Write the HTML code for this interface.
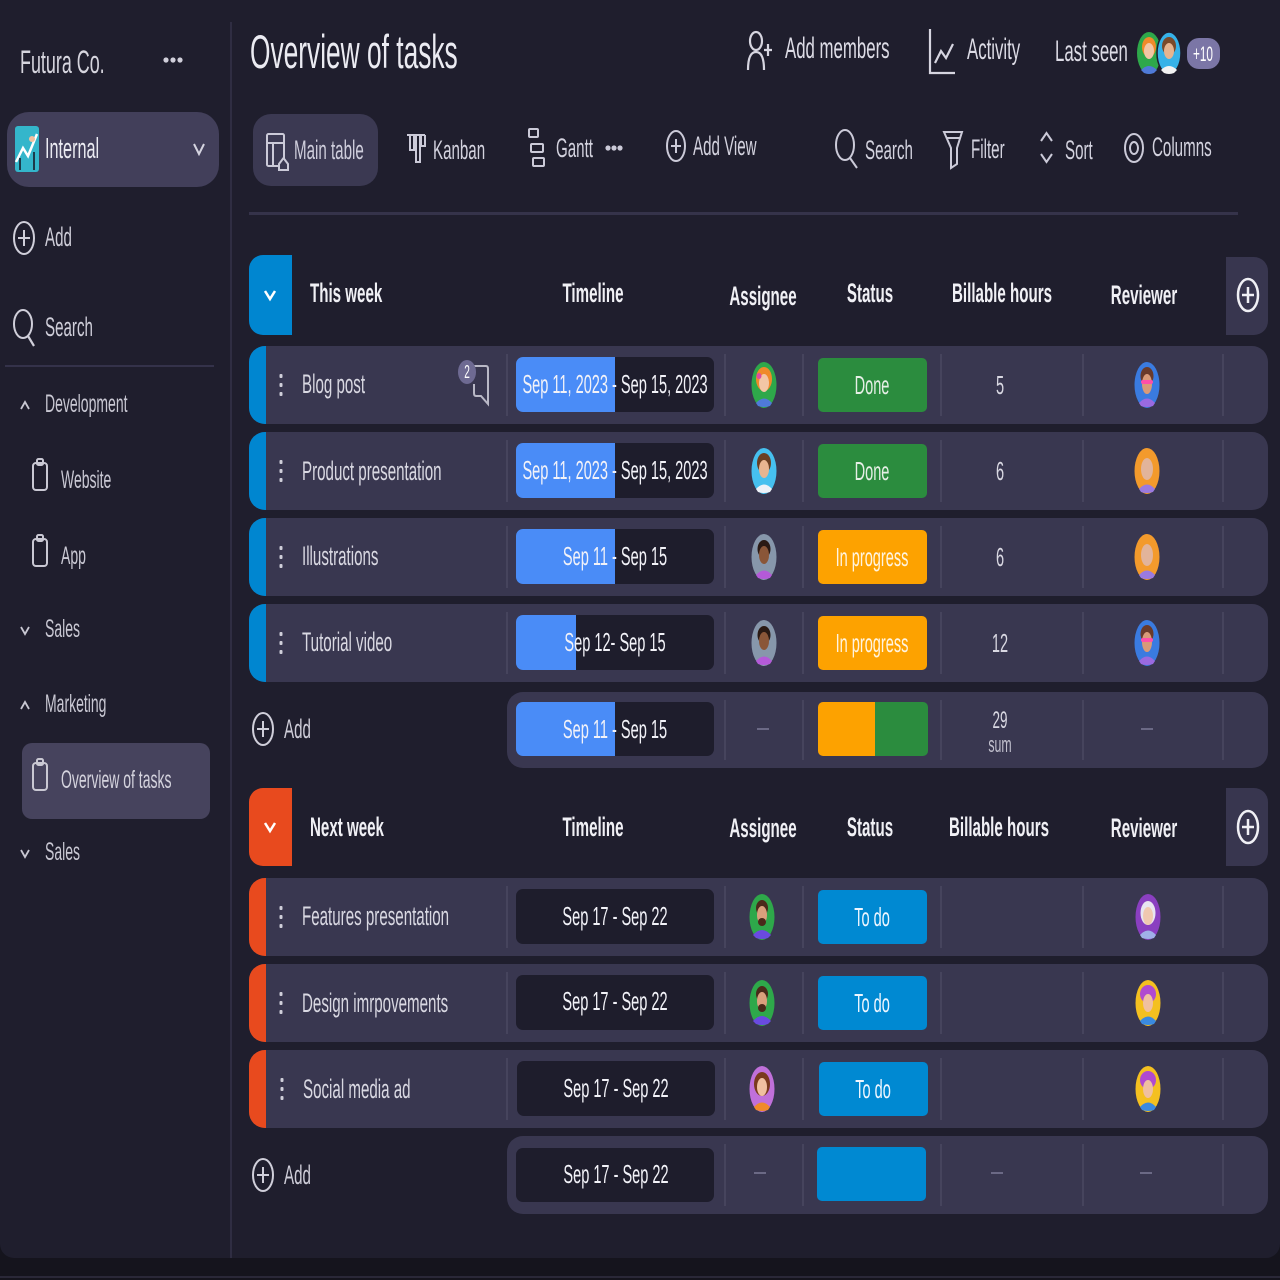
<!DOCTYPE html>
<html><head><meta charset="utf-8">
<style>
*{margin:0;padding:0;box-sizing:border-box}
html,body{width:1280px;height:1280px;overflow:hidden;background:#15141d;font-family:"Liberation Sans",sans-serif}
#panel{position:absolute;left:0;top:0;width:1280px;height:1258px;background:#1f1e2d;border-radius:0 0 14px 14px}
.t{position:absolute;white-space:nowrap;line-height:1;transform-origin:0 50%;transform:scaleX(.56);color:#d9d8e2}
.c{position:absolute;white-space:nowrap;line-height:1;transform-origin:0 50%;transform:scaleX(.56) translateX(-50%);color:#d9d8e2}
.b{font-weight:bold;color:#f0f0f5}
.box{position:absolute}
.row{position:absolute;left:249px;width:1019px;height:78px;background:#393750;border-radius:16px;overflow:hidden}
.strip{position:absolute;left:0;top:0;width:17px;height:78px}
.dv{position:absolute;width:2px;height:62px;top:8px;background:#46445d}
.tl{position:absolute;left:267px;top:11px;width:198px;height:55px;background:#1e1d2c;border-radius:7px;overflow:hidden}
.tlb{position:absolute;left:0;top:0;height:55px;background:#4a8cf7}
.st{position:absolute;left:569px;top:12px;width:109px;height:54px;border-radius:5px}
.dash{position:absolute;width:12px;height:2px;background:#6b6985}
svg{position:absolute;overflow:visible}
</style></head><body>
<div id="panel"></div>
<div class="box" style="left:0;top:1276px;width:1280px;height:2px;background:#2a2838"></div>

<!-- SIDEBAR -->
<div class="t" style="left:20px;top:46px;font-size:32px;color:#d6d5de">Futura Co.</div>
<svg style="left:0;top:0" width="1280" height="1280">
  <circle cx="166" cy="60" r="2.6" fill="#d0cfda"/><circle cx="173" cy="60" r="2.6" fill="#d0cfda"/><circle cx="180" cy="60" r="2.6" fill="#d0cfda"/>
</svg>
<div class="box" style="left:7px;top:112px;width:212px;height:75px;border-radius:22px;background:#423f5a"></div>
<svg style="left:0;top:0" width="300" height="900">
  <rect x="15" y="126" width="24" height="46" rx="3" fill="#34b6cb"/>
  <path d="M16 162 L23 148 L28 156 L37 134" stroke="#fff" stroke-width="2.5" fill="none"/>
  <path d="M20 170 V158 M34 170 V152" stroke="#1d3a4a" stroke-width="2"/>
  <circle cx="32" cy="139" r="3" fill="#f2c0a0"/>
  <polyline points="194,144 199,154 204,144" stroke="#d5d4e0" stroke-width="2" fill="none"/>
  <ellipse cx="24" cy="238" rx="10" ry="16" stroke="#d0cfda" stroke-width="2" fill="none"/>
  <path d="M24 230 V246 M18 238 H30" stroke="#d0cfda" stroke-width="2"/>
  <ellipse cx="23" cy="324" rx="9" ry="14" stroke="#d0cfda" stroke-width="2" fill="none"/>
  <path d="M28 336 L34 346" stroke="#d0cfda" stroke-width="2.2"/>
  <polyline points="21,409 25,402 29,409" stroke="#c8c7d2" stroke-width="1.8" fill="none"/>
  <polyline points="21,627 25,634 29,627" stroke="#c8c7d2" stroke-width="1.8" fill="none"/>
  <polyline points="21,709 25,702 29,709" stroke="#c8c7d2" stroke-width="1.8" fill="none"/>
  <polyline points="21,850 25,857 29,850" stroke="#c8c7d2" stroke-width="1.8" fill="none"/>
</svg>
<div class="t" style="left:45px;top:135px;font-size:29px;color:#ebebf2">Internal</div>
<div class="t" style="left:45px;top:224px;font-size:27px;color:#cfced9">Add</div>
<div class="t" style="left:45px;top:314px;font-size:27px;color:#cfced9">Search</div>
<div class="box" style="left:5px;top:365px;width:209px;height:2px;background:#34324a"></div>
<div class="t" style="left:45px;top:392px;font-size:25px;color:#c9c8d3">Development</div>
<div class="t" style="left:61px;top:468px;font-size:25px;color:#c9c8d3">Website</div>
<div class="t" style="left:61px;top:544px;font-size:25px;color:#c9c8d3">App</div>
<div class="t" style="left:45px;top:617px;font-size:25px;color:#c9c8d3">Sales</div>
<div class="t" style="left:45px;top:692px;font-size:25px;color:#c9c8d3">Marketing</div>
<div class="box" style="left:22px;top:743px;width:188px;height:76px;border-radius:10px;background:#46435d"></div>
<div class="t" style="left:61px;top:768px;font-size:25px;color:#d4d3dd">Overview of tasks</div>
<div class="t" style="left:45px;top:840px;font-size:25px;color:#c9c8d3">Sales</div>
<svg style="left:0;top:0" width="300" height="900">
  <g stroke="#c9c8d3" stroke-width="2" fill="none">
    <rect x="33" y="463" width="14" height="27" rx="3"/><rect x="37" y="459" width="6" height="6" rx="1.5"/>
    <rect x="33" y="539" width="14" height="27" rx="3"/><rect x="37" y="535" width="6" height="6" rx="1.5"/>
    <rect x="33" y="763" width="14" height="27" rx="3"/><rect x="37" y="759" width="6" height="6" rx="1.5"/>
  </g>
</svg>
<div class="box" style="left:230px;top:22px;width:2px;height:1236px;background:#2f2d42"></div>

<!-- TOP HEADER -->
<div class="t" style="left:250px;top:28px;font-size:47px;color:#ebebf2">Overview of tasks</div>
<svg style="left:0;top:0" width="1280" height="240">
  <g stroke="#d6d5e0" stroke-width="2.2" fill="none">
    <ellipse cx="756" cy="41" rx="6" ry="9"/>
    <path d="M748 70 Q748 52 756 52 Q764 52 764 70"/>
    <path d="M768 44 V56 M764 50 H772"/>
    <path d="M930 29 V73 H955"/>
    <polyline points="935,63 941,51 946,58 953,44"/>
  </g>
</svg>
<div class="t" style="left:785px;top:34px;font-size:30px;color:#dddce6">Add members</div>
<div class="t" style="left:967px;top:35px;font-size:30px;color:#dddce6">Activity</div>
<div class="t" style="left:1055px;top:37px;font-size:30px;color:#dddce6">Last seen</div>
<svg style="left:1136px;top:30px" width="50" height="46">
  <ellipse cx="13" cy="23" rx="12" ry="21" fill="#2ea84a"/>
  <ellipse cx="13" cy="17" rx="7" ry="10" fill="#f08a2a"/>
  <ellipse cx="13" cy="21" rx="5" ry="8" fill="#f3c6a5"/>
  <path d="M5 40 Q13 32 21 40 L18 43 Q13 45 8 43Z" fill="#4f7ad8"/>
  <ellipse cx="33" cy="23" rx="12" ry="21" fill="#36b2e8" stroke="#1f1e2d" stroke-width="1.5"/>
  <ellipse cx="33" cy="16" rx="7" ry="9" fill="#7a4a2a"/>
  <ellipse cx="33" cy="21" rx="5" ry="8" fill="#e6b48f"/>
  <path d="M25 40 Q33 32 41 40 L38 43 Q33 45 28 43Z" fill="#f2f2f2"/>
</svg>
<div class="box" style="left:1187px;top:38px;width:33px;height:31px;border-radius:12px;background:#7b76a6"></div>
<div class="c" style="left:1203px;top:44px;font-size:21px;color:#fff">+10</div>

<!-- TOOLBAR -->
<div class="box" style="left:253px;top:114px;width:125px;height:72px;border-radius:18px;background:#3b3952"></div>
<svg style="left:0;top:0" width="1280" height="240">
  <g stroke="#cbcad8" stroke-width="2" fill="none">
    <rect x="267" y="134" width="17" height="32" rx="1.5"/>
    <path d="M267 143 H284 M273 143 V166"/>
    <path d="M279 164 L283.5 158 L288 164 V170 H279Z" fill="#3b3952"/>
    <path d="M407 135 H425 M410 135 V150 H414 V135 M416 135 V162 H420 V135 M421 135 V146 H425 V135"/>
    <rect x="529" y="129" width="9" height="8" rx="1"/>
    <rect x="531" y="144" width="12" height="8" rx="1"/>
    <rect x="533" y="158" width="11" height="8" rx="1"/>
    <ellipse cx="676" cy="146" rx="9" ry="15"/>
    <path d="M676 139 V153 M671 146 H681"/>
    <ellipse cx="845" cy="145" rx="9" ry="15"/>
    <path d="M850 158 L857 168"/>
    <path d="M944 132 H962 L957 148 V164 L951 168 V148Z"/>
    <path d="M946 138 H960"/>
    <polyline points="1041,141 1046.5,133 1052,141"/>
    <polyline points="1041,154 1046.5,162 1052,154"/>
    <ellipse cx="1134" cy="148" rx="9" ry="14"/>
    <ellipse cx="1134" cy="148" rx="4" ry="6"/>
  </g>
  <circle cx="608" cy="148" r="2.6" fill="#cbcad8"/><circle cx="614" cy="148" r="2.6" fill="#cbcad8"/><circle cx="620" cy="148" r="2.6" fill="#cbcad8"/>
</svg>
<div class="t" style="left:294px;top:137px;font-size:27px;color:#cfcedc">Main table</div>
<div class="t" style="left:433px;top:137px;font-size:27px;color:#d3d2de">Kanban</div>
<div class="t" style="left:556px;top:135px;font-size:27px;color:#d3d2de">Gantt</div>
<div class="t" style="left:693px;top:133px;font-size:27px;color:#d3d2de">Add View</div>
<div class="t" style="left:865px;top:137px;font-size:27px;color:#d3d2de">Search</div>
<div class="t" style="left:971px;top:136px;font-size:27px;color:#d3d2de">Filter</div>
<div class="t" style="left:1065px;top:137px;font-size:27px;color:#d3d2de">Sort</div>
<div class="t" style="left:1152px;top:134px;font-size:27px;color:#d3d2de">Columns</div>
<div class="box" style="left:249px;top:212px;width:989px;height:3px;background:#35334a"></div>

<!-- GROUP 1 HEADER -->
<div class="box" style="left:249px;top:255px;width:43px;height:80px;border-radius:14px 0 0 14px;background:#0086d0"></div>
<svg style="left:0;top:0" width="1280" height="900">
  <polyline points="265,291 270,299 275,291" stroke="#fff" stroke-width="2.5" fill="none"/>
</svg>
<div class="t b" style="left:310px;top:280px;font-size:27px">This week</div>
<div class="c b" style="left:593px;top:280px;font-size:27px">Timeline</div>
<div class="c b" style="left:763px;top:283px;font-size:27px">Assignee</div>
<div class="c b" style="left:870px;top:280px;font-size:27px">Status</div>
<div class="c b" style="left:1002px;top:280px;font-size:27px">Billable hours</div>
<div class="c b" style="left:1144px;top:282px;font-size:27px">Reviewer</div>
<div class="box" style="left:1226px;top:257px;width:42px;height:78px;border-radius:0 14px 14px 0;background:#38364f"></div>
<svg style="left:0;top:0" width="1280" height="900">
  <ellipse cx="1248" cy="295" rx="10" ry="16" stroke="#f0f0f5" stroke-width="2.5" fill="none"/>
  <path d="M1248 287 V303 M1242 295 H1254" stroke="#f0f0f5" stroke-width="2.5"/>
</svg>

<!-- GROUP 1 ROWS -->
<div class="row" style="top:346px">
  <div class="strip" style="background:#0086d0"></div>
  <div class="dv" style="left:257px"></div><div class="dv" style="left:475px"></div><div class="dv" style="left:553px"></div><div class="dv" style="left:691px"></div><div class="dv" style="left:833px"></div><div class="dv" style="left:973px"></div>
  <div class="tl"><div class="tlb" style="width:99px"></div></div>
  <div class="st" style="background:#2b8c3e"></div>
</div>
<div class="row" style="top:432px">
  <div class="strip" style="background:#0086d0"></div>
  <div class="dv" style="left:257px"></div><div class="dv" style="left:475px"></div><div class="dv" style="left:553px"></div><div class="dv" style="left:691px"></div><div class="dv" style="left:833px"></div><div class="dv" style="left:973px"></div>
  <div class="tl"><div class="tlb" style="width:99px"></div></div>
  <div class="st" style="background:#2b8c3e"></div>
</div>
<div class="row" style="top:518px">
  <div class="strip" style="background:#0086d0"></div>
  <div class="dv" style="left:257px"></div><div class="dv" style="left:475px"></div><div class="dv" style="left:553px"></div><div class="dv" style="left:691px"></div><div class="dv" style="left:833px"></div><div class="dv" style="left:973px"></div>
  <div class="tl"><div class="tlb" style="width:99px"></div></div>
  <div class="st" style="background:#fda200"></div>
</div>
<div class="row" style="top:604px">
  <div class="strip" style="background:#0086d0"></div>
  <div class="dv" style="left:257px"></div><div class="dv" style="left:475px"></div><div class="dv" style="left:553px"></div><div class="dv" style="left:691px"></div><div class="dv" style="left:833px"></div><div class="dv" style="left:973px"></div>
  <div class="tl"><div class="tlb" style="width:60px"></div></div>
  <div class="st" style="background:#fda200"></div>
</div>
<div class="box" style="left:507px;top:692px;width:761px;height:76px;border-radius:16px;background:#393750">
  <div class="dv" style="left:217px;top:8px;height:60px"></div><div class="dv" style="left:295px;top:8px;height:60px"></div><div class="dv" style="left:433px;top:8px;height:60px"></div><div class="dv" style="left:575px;top:8px;height:60px"></div><div class="dv" style="left:715px;top:8px;height:60px"></div>
  <div class="tl" style="left:9px;top:10px;height:54px"><div class="tlb" style="width:99px;height:54px"></div></div>
  <div class="box" style="left:311px;top:10px;width:110px;height:54px;border-radius:5px;overflow:hidden">
    <div class="box" style="left:0;top:0;width:57px;height:54px;background:#fda200"></div>
    <div class="box" style="left:57px;top:0;width:53px;height:54px;background:#2b8c3e"></div>
  </div>
</div>
<div class="dash" style="left:757px;top:728px"></div>
<div class="dash" style="left:1141px;top:728px"></div>

<div class="t" style="left:302px;top:371px;font-size:27px">Blog post</div>
<div class="t" style="left:302px;top:458px;font-size:27px">Product presentation</div>
<div class="t" style="left:302px;top:543px;font-size:27px">Illustrations</div>
<div class="t" style="left:302px;top:629px;font-size:27px">Tutorial video</div>
<div class="c" style="left:615px;top:371px;font-size:26px;color:#f2f2f8">Sep 11, 2023 - Sep 15, 2023</div>
<div class="c" style="left:615px;top:457px;font-size:26px;color:#f2f2f8">Sep 11, 2023 - Sep 15, 2023</div>
<div class="c" style="left:615px;top:543px;font-size:26px;color:#f2f2f8">Sep 11 - Sep 15</div>
<div class="c" style="left:615px;top:629px;font-size:26px;color:#f2f2f8">Sep 12- Sep 15</div>
<div class="c" style="left:615px;top:716px;font-size:26px;color:#f2f2f8">Sep 11 - Sep 15</div>
<div class="c" style="left:872px;top:372px;font-size:26px;color:#e6efe6">Done</div>
<div class="c" style="left:872px;top:458px;font-size:26px;color:#e6efe6">Done</div>
<div class="c" style="left:872px;top:544px;font-size:26px;color:#fff4e0">In progress</div>
<div class="c" style="left:872px;top:630px;font-size:26px;color:#fff4e0">In progress</div>
<div class="c" style="left:1000px;top:372px;font-size:26px">5</div>
<div class="c" style="left:1000px;top:458px;font-size:26px">6</div>
<div class="c" style="left:1000px;top:544px;font-size:26px">6</div>
<div class="c" style="left:1000px;top:630px;font-size:26px">12</div>
<div class="c" style="left:1000px;top:709px;font-size:24px">29</div>
<div class="c" style="left:1000px;top:734px;font-size:22px;color:#c2c1ce">sum</div>
<div class="t" style="left:284px;top:716px;font-size:27px;color:#cfced9">Add</div>

<!-- GROUP 2 HEADER -->
<div class="box" style="left:249px;top:788px;width:43px;height:78px;border-radius:14px 0 0 14px;background:#e84a1e"></div>
<svg style="left:0;top:0" width="1280" height="1280">
  <polyline points="265,823 270,831 275,823" stroke="#fff" stroke-width="2.5" fill="none"/>
</svg>
<div class="t b" style="left:310px;top:814px;font-size:27px">Next week</div>
<div class="c b" style="left:593px;top:814px;font-size:27px">Timeline</div>
<div class="c b" style="left:763px;top:815px;font-size:27px">Assignee</div>
<div class="c b" style="left:870px;top:814px;font-size:27px">Status</div>
<div class="c b" style="left:999px;top:814px;font-size:27px">Billable hours</div>
<div class="c b" style="left:1144px;top:815px;font-size:27px">Reviewer</div>
<div class="box" style="left:1226px;top:788px;width:42px;height:78px;border-radius:0 14px 14px 0;background:#38364f"></div>
<svg style="left:0;top:0" width="1280" height="1280">
  <ellipse cx="1248" cy="827" rx="10" ry="16" stroke="#f0f0f5" stroke-width="2.5" fill="none"/>
  <path d="M1248 819 V835 M1242 827 H1254" stroke="#f0f0f5" stroke-width="2.5"/>
</svg>

<!-- GROUP 2 ROWS -->
<div class="row" style="top:878px">
  <div class="strip" style="background:#e84a1e"></div>
  <div class="dv" style="left:257px"></div><div class="dv" style="left:475px"></div><div class="dv" style="left:553px"></div><div class="dv" style="left:691px"></div><div class="dv" style="left:833px"></div><div class="dv" style="left:973px"></div>
  <div class="tl"></div>
  <div class="st" style="background:#0089d2"></div>
</div>
<div class="row" style="top:964px">
  <div class="strip" style="background:#e84a1e"></div>
  <div class="dv" style="left:257px"></div><div class="dv" style="left:475px"></div><div class="dv" style="left:553px"></div><div class="dv" style="left:691px"></div><div class="dv" style="left:833px"></div><div class="dv" style="left:973px"></div>
  <div class="tl"></div>
  <div class="st" style="background:#0089d2"></div>
</div>
<div class="row" style="top:1050px">
  <div class="strip" style="background:#e84a1e"></div>
  <div class="dv" style="left:257px"></div><div class="dv" style="left:475px"></div><div class="dv" style="left:553px"></div><div class="dv" style="left:691px"></div><div class="dv" style="left:833px"></div><div class="dv" style="left:973px"></div>
  <div class="tl" style="left:268px"></div>
  <div class="st" style="background:#0089d2;left:570px"></div>
</div>
<div class="box" style="left:507px;top:1136px;width:761px;height:78px;border-radius:16px;background:#393750">
  <div class="dv" style="left:217px"></div><div class="dv" style="left:295px"></div><div class="dv" style="left:433px"></div><div class="dv" style="left:575px"></div><div class="dv" style="left:715px"></div>
  <div class="tl" style="left:9px;top:12px;height:54px"></div>
  <div class="box" style="left:310px;top:11px;width:109px;height:54px;border-radius:5px;background:#0089d2"></div>
</div>
<div class="dash" style="left:754px;top:1172px"></div>
<div class="dash" style="left:991px;top:1172px"></div>
<div class="dash" style="left:1140px;top:1172px"></div>

<div class="t" style="left:302px;top:903px;font-size:27px">Features presentation</div>
<div class="t" style="left:302px;top:990px;font-size:27px">Design imrpovements</div>
<div class="t" style="left:303px;top:1076px;font-size:27px">Social media ad</div>
<div class="c" style="left:615px;top:903px;font-size:26px;color:#f2f2f8">Sep 17 - Sep 22</div>
<div class="c" style="left:615px;top:988px;font-size:26px;color:#f2f2f8">Sep 17 - Sep 22</div>
<div class="c" style="left:616px;top:1075px;font-size:26px;color:#f2f2f8">Sep 17 - Sep 22</div>
<div class="c" style="left:616px;top:1161px;font-size:26px;color:#f2f2f8">Sep 17 - Sep 22</div>
<div class="c" style="left:872px;top:904px;font-size:26px;color:#eef6ff">To do</div>
<div class="c" style="left:872px;top:990px;font-size:26px;color:#eef6ff">To do</div>
<div class="c" style="left:873px;top:1076px;font-size:26px;color:#eef6ff">To do</div>
<div class="t" style="left:284px;top:1162px;font-size:27px;color:#cfced9">Add</div>

<!-- OVERLAY: dots, comment, add icons -->
<svg style="left:0;top:0" width="1280" height="1280">
  <g fill="#d0cfda">
    <rect x="279.5" y="374" width="3" height="4" rx="1"/><rect x="279.5" y="383" width="3" height="4" rx="1"/><rect x="279.5" y="392" width="3" height="4" rx="1"/>
    <rect x="279.5" y="460" width="3" height="4" rx="1"/><rect x="279.5" y="469" width="3" height="4" rx="1"/><rect x="279.5" y="478" width="3" height="4" rx="1"/>
    <rect x="279.5" y="546" width="3" height="4" rx="1"/><rect x="279.5" y="555" width="3" height="4" rx="1"/><rect x="279.5" y="564" width="3" height="4" rx="1"/>
    <rect x="279.5" y="632" width="3" height="4" rx="1"/><rect x="279.5" y="641" width="3" height="4" rx="1"/><rect x="279.5" y="650" width="3" height="4" rx="1"/>
    <rect x="279.5" y="906" width="3" height="4" rx="1"/><rect x="279.5" y="915" width="3" height="4" rx="1"/><rect x="279.5" y="924" width="3" height="4" rx="1"/>
    <rect x="279.5" y="992" width="3" height="4" rx="1"/><rect x="279.5" y="1001" width="3" height="4" rx="1"/><rect x="279.5" y="1010" width="3" height="4" rx="1"/>
    <rect x="280.5" y="1078" width="3" height="4" rx="1"/><rect x="280.5" y="1087" width="3" height="4" rx="1"/><rect x="280.5" y="1096" width="3" height="4" rx="1"/>
  </g>
  <path d="M474 366 H486 Q488 366 488 369 V404 L481 396 H476 Q474 396 474 393 V384" stroke="#b9b8c6" stroke-width="2" fill="none"/>
  <ellipse cx="467" cy="372" rx="9" ry="12" fill="#6e6a92"/>
  <g stroke="#d0cfda" stroke-width="2" fill="none">
    <ellipse cx="263" cy="729" rx="10" ry="16"/><path d="M263 721 V737 M257 729 H269"/>
    <ellipse cx="263" cy="1175" rx="10" ry="16"/><path d="M263 1167 V1183 M257 1175 H269"/>
  </g>
</svg>
<div class="c" style="left:467px;top:363px;font-size:18px;color:#fff">2</div>

<!-- AVATARS -->
<svg style="left:0;top:0" width="1280" height="1280">
  <g transform="translate(764,385)">
    <ellipse rx="12.5" ry="23" fill="#2ea84a"/><ellipse cy="-6" rx="8" ry="12" fill="#f08a2a"/><ellipse cy="-2" rx="5" ry="9" fill="#f3c6a5"/><ellipse cx="-5" cy="-9" rx="2.5" ry="3" fill="#e04aa0"/><path d="M-8 18 Q0 9 8 18 L6 21 Q0 23 -6 21Z" fill="#4f7ad8"/>
  </g>
  <g transform="translate(764,471)">
    <ellipse rx="12.5" ry="23" fill="#46c0ef"/><ellipse cy="-8" rx="7" ry="10" fill="#6a3f22"/><ellipse cy="-2" rx="5" ry="9" fill="#e8b590"/><path d="M-8 18 Q0 9 8 18 L6 21 Q0 23 -6 21Z" fill="#eef2f8"/>
  </g>
  <g transform="translate(764,557)">
    <ellipse rx="12.5" ry="23" fill="#8797ab"/><ellipse cy="-8" rx="6.5" ry="9" fill="#2a1a14"/><ellipse cy="-2" rx="5" ry="9" fill="#8a5638"/><path d="M-8 18 Q0 9 8 18 L6 21 Q0 23 -6 21Z" fill="#b45ad8"/>
  </g>
  <g transform="translate(764,643)">
    <ellipse rx="12.5" ry="23" fill="#8797ab"/><ellipse cy="-8" rx="6.5" ry="9" fill="#2a1a14"/><ellipse cy="-2" rx="5" ry="9" fill="#8a5638"/><path d="M-8 18 Q0 9 8 18 L6 21 Q0 23 -6 21Z" fill="#b45ad8"/>
  </g>
  <g transform="translate(1147,385)">
    <ellipse rx="12.5" ry="23" fill="#3a7be0"/><ellipse cy="-9" rx="6.5" ry="9" fill="#6a3a2a"/><ellipse cy="-1" rx="5" ry="10" fill="#d99a78"/><rect x="-6" y="-5" width="12" height="4" rx="2" fill="#ff4fa8"/><path d="M-8 18 Q0 9 8 18 L6 21 Q0 23 -6 21Z" fill="#9a6ae0"/>
  </g>
  <g transform="translate(1147,471)">
    <ellipse rx="12.5" ry="23" fill="#f39a2c"/><ellipse cy="-2" rx="6" ry="11" fill="#e2b49a"/><path d="M-8 18 Q0 9 8 18 L6 21 Q0 23 -6 21Z" fill="#9a7ae0"/>
  </g>
  <g transform="translate(1147,557)">
    <ellipse rx="12.5" ry="23" fill="#f39a2c"/><ellipse cy="-2" rx="6" ry="11" fill="#e2b49a"/><path d="M-8 18 Q0 9 8 18 L6 21 Q0 23 -6 21Z" fill="#9a7ae0"/>
  </g>
  <g transform="translate(1147,643)">
    <ellipse rx="12.5" ry="23" fill="#3a7be0"/><ellipse cy="-9" rx="6.5" ry="9" fill="#6a3a2a"/><ellipse cy="-1" rx="5" ry="10" fill="#d99a78"/><rect x="-6" y="-5" width="12" height="4" rx="2" fill="#ff4fa8"/><path d="M-8 18 Q0 9 8 18 L6 21 Q0 23 -6 21Z" fill="#9a6ae0"/>
  </g>
  <g transform="translate(762,917)">
    <ellipse rx="12.5" ry="23" fill="#2ea84a"/><ellipse cy="-9" rx="6" ry="8" fill="#4a2a1a"/><ellipse cy="-2" rx="5" ry="9" fill="#d9a07c"/><ellipse cy="5" rx="4" ry="4" fill="#4a2a1a"/><path d="M-9 18 Q0 8 9 18 L6 21 Q0 23 -6 21Z" fill="#6a4ae0"/>
  </g>
  <g transform="translate(762,1003)">
    <ellipse rx="12.5" ry="23" fill="#2ea84a"/><ellipse cy="-9" rx="6" ry="8" fill="#4a2a1a"/><ellipse cy="-2" rx="5" ry="9" fill="#d9a07c"/><ellipse cy="5" rx="4" ry="4" fill="#4a2a1a"/><path d="M-9 18 Q0 8 9 18 L6 21 Q0 23 -6 21Z" fill="#6a4ae0"/>
  </g>
  <g transform="translate(762,1089)">
    <ellipse rx="12.5" ry="23" fill="#c070da"/><ellipse cy="-5" rx="8" ry="12" fill="#7a3a1e"/><ellipse cy="-2" rx="5" ry="9" fill="#f0c0a0"/><path d="M-8 18 Q0 9 8 18 L6 21 Q0 23 -6 21Z" fill="#f08a2a"/>
  </g>
  <g transform="translate(1148,917)">
    <ellipse rx="12.5" ry="23" fill="#8a3fc0"/><ellipse cy="-4" rx="7.5" ry="12" fill="#e8e4f0"/><ellipse cy="-1" rx="5" ry="9" fill="#f0c8b0"/><path d="M-8 18 Q0 9 8 18 L6 21 Q0 23 -6 21Z" fill="#a0b0e8"/>
  </g>
  <g transform="translate(1148,1003)">
    <ellipse rx="12.5" ry="23" fill="#f4c020"/><ellipse cy="-9" rx="8" ry="9" fill="#b04ad0"/><ellipse cy="0" rx="5" ry="9" fill="#f0c0a0"/><path d="M-8 18 Q0 9 8 18 L6 21 Q0 23 -6 21Z" fill="#3a8ae0"/>
  </g>
  <g transform="translate(1148,1089)">
    <ellipse rx="12.5" ry="23" fill="#f4c020"/><ellipse cy="-9" rx="8" ry="9" fill="#b04ad0"/><ellipse cy="0" rx="5" ry="9" fill="#f0c0a0"/><path d="M-8 18 Q0 9 8 18 L6 21 Q0 23 -6 21Z" fill="#3a8ae0"/>
  </g>
</svg>
</body></html>
